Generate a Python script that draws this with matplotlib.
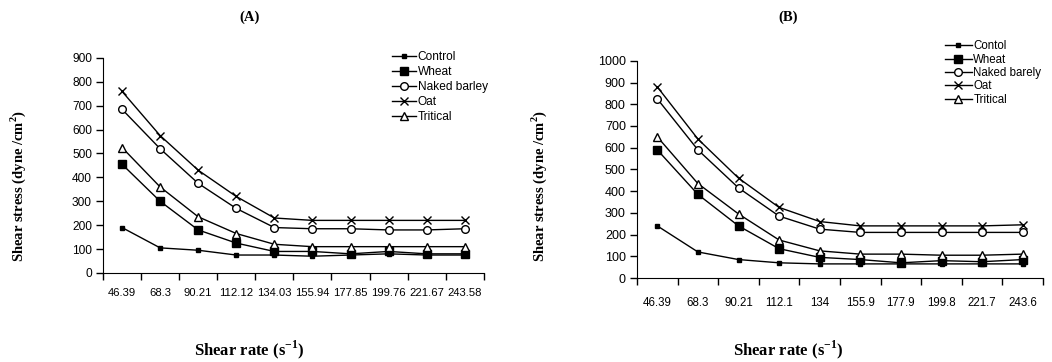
import matplotlib
matplotlib.use('Agg')
import matplotlib.pyplot as plt
from matplotlib import font_manager

plt.rcParams['mathtext.fontset'] = 'custom'
plt.rcParams['mathtext.rm'] = 'Liberation Serif'
plt.rcParams['mathtext.bf'] = 'Liberation Serif:bold'

# shear rate categories (s^-1)
rate_A = ['46.39', '68.3', '90.21', '112.12', '134.03', '155.94', '177.85', '199.76', '221.67', '243.58']
rate_B = ['46.39', '68.3', '90.21', '112.1', '134', '155.9', '177.9', '199.8', '221.7', '243.6']

# panel A shear stress (dyne/cm2)
control_A = [190, 105, 95, 75, 75, 70, 75, 80, 75, 75]
wheat_A = [455, 300, 180, 125, 90, 90, 80, 90, 80, 80]
barley_A = [685, 520, 375, 270, 190, 185, 185, 180, 180, 185]
oat_A = [760, 575, 430, 320, 230, 220, 220, 220, 220, 220]
tritical_A = [525, 360, 235, 165, 120, 110, 110, 110, 110, 110]

# panel B shear stress (dyne/cm2)
control_B = [240, 120, 85, 70, 65, 65, 65, 65, 65, 65]
wheat_B = [590, 385, 240, 135, 95, 85, 70, 80, 75, 85]
barley_B = [825, 590, 415, 285, 225, 210, 210, 210, 210, 210]
oat_B = [880, 640, 460, 325, 260, 240, 240, 240, 240, 245]
tritical_B = [650, 435, 295, 175, 125, 110, 110, 105, 105, 110]

labels_A = ['Control', 'Wheat', 'Naked barley', 'Oat', 'Tritical']
labels_B = ['Contol', 'Wheat', 'Naked barely', 'Oat', 'Tritical']

# panel A uses a narrow font, if there is one
names = [f.name for f in font_manager.fontManager.ttflist]
if 'Liberation Sans Narrow' in names:
    narrow, k = 'Liberation Sans Narrow', 1.0
else:
    narrow, k = 'Liberation Sans', 0.9

styles = [dict(marker='s', ms=2.5, mfc='black'),
          dict(marker='s', ms=5.5, mfc='black'),
          dict(marker='o', ms=5.5, mfc='white'),
          dict(marker='x', ms=5.5, mew=1),
          dict(marker='^', ms=6, mfc='white')]


def panel(ax, cats, series, labels, ymax, font, xfs, yfs, pad):
    x = list(range(len(cats)))
    for s, lab, st in zip(series, labels, styles):
        ax.plot(x, s, color='black', lw=1, mec='black', label=lab, **st)
    ax.set_xlim(-0.5, len(cats) - 0.5)
    ax.set_ylim(0, ymax)
    ax.set_yticks(range(0, ymax + 1, 100))
    ax.set_xticks([i - 0.5 for i in range(len(cats) + 1)])
    ax.set_xticklabels([])
    ax.set_xticks(x, minor=True)
    ax.set_xticklabels(cats, minor=True, fontfamily=font, fontsize=xfs)
    ax.tick_params(axis='x', which='minor', length=0, pad=pad)
    ax.tick_params(axis='x', which='major', length=5, width=1, direction='out')
    ax.tick_params(axis='y', length=5, width=1, direction='out', pad=3)
    for t in ax.get_yticklabels():
        t.set_fontfamily(font)
        t.set_fontsize(yfs)
    ax.spines['top'].set_visible(False)
    ax.spines['right'].set_visible(False)


fig = plt.figure(figsize=(10.52, 3.62), dpi=100)

axA = fig.add_axes([0.0979, 0.246, 0.362, 0.594])
panel(axA, rate_A, [control_A, wheat_A, barley_A, oat_A, tritical_A], labels_A, 900,
      narrow, 9 * k, 9.5 * k, 11)
axA.legend(loc='upper left', bbox_to_anchor=(0.367, 0.875), bbox_transform=fig.transFigure,
           frameon=False, handlelength=2.0, handletextpad=0.15, labelspacing=0.25, borderpad=0,
           prop={'family': narrow, 'size': 9.5 * k})

axB = fig.add_axes([0.6055, 0.232, 0.386, 0.6])
panel(axB, rate_B, [control_B, wheat_B, barley_B, oat_B, tritical_B], labels_B, 1000,
      'Liberation Sans', 8.3, 9, 13.5)
axB.legend(loc='upper left', bbox_to_anchor=(0.893, 0.905), bbox_transform=fig.transFigure,
           frameon=False, handlelength=2.3, handletextpad=0.15, labelspacing=0.12, borderpad=0,
           prop={'family': 'Liberation Sans', 'size': 8.3})

serif = dict(family='Liberation Serif', weight='bold')
fig.text(0.237, 0.953, '(A)', ha='center', va='center', fontsize=10.5, **serif)
fig.text(0.749, 0.953, '(B)', ha='center', va='center', fontsize=10.5, **serif)
fig.text(0.237, 0.033, 'Shear rate (s$^{\\mathbf{-1}}$)', ha='center', va='center', fontsize=12, **serif)
fig.text(0.749, 0.033, 'Shear rate (s$^{\\mathbf{-1}}$)', ha='center', va='center', fontsize=12, **serif)
fig.text(0.017, 0.486, 'Shear stress (dyne /cm$^{\\mathbf{2}}$)', rotation=90, ha='center', va='center',
         fontsize=10.5, **serif)
fig.text(0.513, 0.486, 'Shear stress (dyne /cm$^{\\mathbf{2}}$)', rotation=90, ha='center', va='center',
         fontsize=10.5, **serif)

fig.savefig('out.png', dpi=100)
